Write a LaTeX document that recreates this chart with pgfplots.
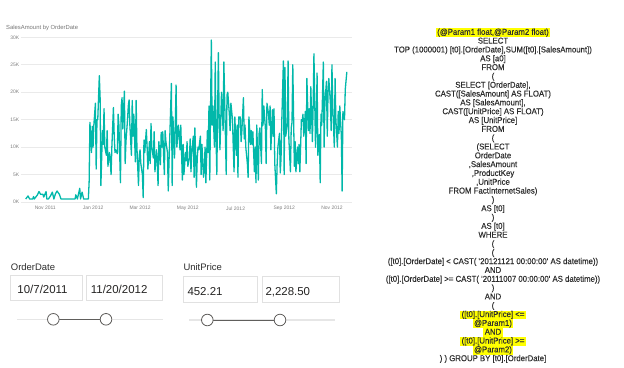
\documentclass[border=0pt]{standalone}
\usepackage{pgfplots}
\pgfplotsset{compat=1.18}
\usepackage{pgfplotstable}
\usepackage{fontspec}
\setmainfont{Liberation Sans}
\newfontfamily\sqlfont[FakeStretch=0.92,FakeBold=0.25]{Liberation Sans}
\definecolor{pbiteal}{HTML}{01B8AA}
\definecolor{gridgray}{HTML}{EAEAEA}
\definecolor{tickgray}{HTML}{808080}
\definecolor{titlegray}{HTML}{777777}
\definecolor{sqlgray}{HTML}{2E2E2E}
\definecolor{hlyellow}{HTML}{FFFF00}
\definecolor{boxgray}{HTML}{E1E1E1}
\definecolor{tracklight}{HTML}{E6E6E6}
\definecolor{trackdark}{HTML}{605E5C}
\definecolor{slicertext}{HTML}{252423}

% day = days since 2011-10-07, sales = SalesAmount
\pgfplotstableread{
day sales
0 550
3 1100
5 550
9 550
10 1000
11 550
15 1300
17 1900
19 1400
22 1400
23 900
26 1900
27 550
29 550
32 1200
34 1800
36 550
38 1500
40 2000
43 1400
45 550
63 550
64 1300
66 550
69 2500
70 550
72 1800
74 550
80 550
81 3700
82 14500
84 9000
85 13800
86 10000
87 14000
89 18000
90 6000
91 15000
92 15000
94 23000
95 19000
96 3000
98 13000
99 10500
100 17000
101 10000
103 8500
104 13000
105 6500
107 9000
108 7500
109 5000
110 10000
112 17200
113 12000
114 9000
115 9500
117 8800
118 16000
119 14000
121 3500
122 17500
123 19000
124 13300
126 20200
127 7000
128 11000
130 15000
131 17500
132 18600
133 14000
135 8500
136 18500
137 12000
138 16000
140 7300
141 18500
142 10000
144 3000
145 8500
146 9500
147 7000
149 5000
150 800
151 11300
152 9000
154 13200
155 10000
156 6000
158 11000
159 7000
160 14300
161 10000
163 8000
164 12800
165 5500
167 9500
168 7000
169 3000
170 11000
172 6800
173 12700
174 10000
175 12800
177 5000
178 13000
179 11000
181 9000
182 2000
183 7500
184 12000
186 21600
187 3000
188 15500
190 8000
191 14000
192 21300
193 10000
195 14000
196 12000
197 9500
198 14000
200 4000
201 10500
202 5000
204 9000
205 7500
206 11000
207 6500
209 8000
210 11500
211 5500
212 9000
214 12000
215 4500
216 13500
218 2700
219 8000
220 10000
221 9500
223 12000
224 5000
225 10500
227 4500
228 6000
229 10000
230 3500
232 13000
233 9000
234 17500
235 4000
237 29500
238 14000
239 17500
241 10000
242 25500
243 12000
244 5000
246 27200
247 15000
248 9500
250 20000
251 17000
252 13000
253 25500
255 12000
256 5000
257 19500
258 20000
260 16000
261 13000
262 18000
264 15000
265 10000
266 5500
267 15500
269 8500
270 14000
271 4500
272 15500
274 15500
275 11000
276 13000
278 19000
279 11500
280 14000
281 10000
283 7000
284 4500
285 15500
287 10500
288 13000
289 10500
290 12800
292 5500
293 10000
294 3500
295 14000
297 4000
298 12500
299 13500
301 7000
302 20500
303 14000
304 17500
306 13500
307 7000
308 18000
310 16000
311 14000
312 17500
313 9500
315 16800
316 12000
317 17000
318 7000
320 1500
321 6800
322 10000
324 12500
325 5300
326 8000
327 15000
329 25700
330 5000
331 24500
332 12000
334 14000
335 25700
336 11500
338 5500
339 13500
340 14500
341 25000
343 6500
344 11000
345 5500
347 10000
348 7000
349 10500
350 5500
352 15000
353 14700
354 16000
355 12000
357 16500
358 7000
359 22500
361 13000
362 17000
363 12500
364 21000
366 11000
367 17500
368 27000
370 10000
371 14000
372 23500
373 8500
375 12300
376 3500
377 16000
378 14000
380 25500
381 10000
382 18000
384 22000
385 12000
386 20000
387 22500
389 18000
390 13000
391 25000
392 17500
394 10000
395 22500
396 15000
398 10000
399 16500
400 12500
401 17500
403 12000
404 2000
405 16500
407 15000
408 20500
410 23700
}\salesdata

\begin{document}
\begin{tikzpicture}[x=1bp,y=1bp]
\fill[white] (0,0) rectangle (624,367);
\path[use as bounding box] (0,0) rectangle (624,367);
\coordinate (axisSW) at (21,165);

% chart title
\node[anchor=base west, inner sep=0pt, text=titlegray, font=\fontsize{5.9}{7}\selectfont] at (6,338) {SalesAmount by OrderDate};

\begin{axis}[
  at={(axisSW)}, anchor=south west, scale only axis,
  width=331bp, height=164.7bp,
  xmin=-6, xmax=416.6, ymin=0, ymax=30000,
  axis line style={draw=none},
  major tick style={draw=none},
  ymajorgrids, grid style={color=gridgray, line width=0.6bp},
  ytick={0,5000,10000,15000,20000,25000,30000},
  yticklabels={0K,5K,10K,15K,20K,25K,30K},
  xtick={25,86,146,207,268,330,391},
  xticklabels={Nov 2011,Jan 2012,Mar 2012,May 2012,Jul 2012,Sep 2012,Nov 2012},
  ticklabel style={font=\fontsize{5}{6}\selectfont, text=tickgray},
  yticklabel style={inner sep=0pt, xshift=-1.5bp},
  xticklabel style={inner sep=0pt, yshift=-4.3bp},
  scaled y ticks=false,
]
\addplot[pbiteal, line width=1.3bp, line join=round] table[x=day, y=sales]{\salesdata};
\end{axis}

% slicers
\node[anchor=base west, inner sep=0pt, text=sqlgray, font=\fontsize{9.5}{11}\selectfont] at (10.7,96.9) {OrderDate};
\node[anchor=base west, inner sep=0pt, text=sqlgray, font=\fontsize{9.5}{11}\selectfont] at (183.3,96.9) {UnitPrice};
\draw[boxgray, line width=0.8bp] (10.7,66.3) rectangle (82.7,91.3);
\draw[boxgray, line width=0.8bp] (86,66.3) rectangle (162.3,91.3);
\draw[boxgray, line width=0.8bp] (183.3,65) rectangle (257.3,90.3);
\draw[boxgray, line width=0.8bp] (262.7,65) rectangle (339,90.3);
\node[anchor=base west, inner sep=0pt, text=slicertext, font=\fontsize{11.5}{13}\selectfont] at (17.3,73.5) {10/7/2011};
\node[anchor=base west, inner sep=0pt, text=slicertext, font=\fontsize{11.5}{13}\selectfont] at (90.7,73.5) {11/20/2012};
\node[anchor=base west, inner sep=0pt, text=slicertext, font=\fontsize{11.5}{13}\selectfont] at (187.3,72) {452.21};
\node[anchor=base west, inner sep=0pt, text=slicertext, font=\fontsize{11.5}{13}\selectfont] at (265.3,72) {2,228.50};
% slider 1
\draw[tracklight, line width=1.5bp] (17,47.7) -- (163,47.7);
\draw[trackdark, line width=1bp] (53.3,47.7) -- (106,47.7);
\draw[trackdark, fill=white, line width=0.8bp] (53.3,47.7) circle (5.8);
\draw[trackdark, fill=white, line width=0.8bp] (106,47.7) circle (5.8);
% slider 2
\draw[tracklight, line width=1.5bp] (189,47) -- (335,47);
\draw[trackdark, line width=1bp] (207.3,47) -- (280,47);
\draw[trackdark, fill=white, line width=0.8bp] (207.3,47) circle (5.8);
\draw[trackdark, fill=white, line width=0.8bp] (280,47) circle (5.8);

% SQL text
\tikzset{sqlnode/.style={font=\sqlfont\fontsize{8.5}{9}\selectfont, text=sqlgray, inner xsep=1.5bp, inner ysep=0.4bp, text height=6.1bp, text depth=1.9bp}}
\foreach [count=\i] \t in {
{(@Param1 float,@Param2 float)},
{SELECT},
{TOP (1000001) [t0].[OrderDate],SUM([t0].[SalesAmount])},
{AS [a0]},
{FROM},
{(},
{SELECT [OrderDate],},
{CAST([SalesAmount] AS FLOAT)},
{AS [SalesAmount],},
{CAST([UnitPrice] AS FLOAT)},
{AS [UnitPrice]},
{FROM},
{(},
{(SELECT},
{OrderDate},
{,SalesAmount},
{,ProductKey},
{,UnitPrice},
{FROM FactInternetSales)},
{)},
{AS [t0]},
{)},
{AS [t0]},
{WHERE},
{(},
{(},
{([t0].[OrderDate] < CAST( \textquotesingle 20121121 00:00:00\textquotesingle\ AS datetime))},
{AND},
{([t0].[OrderDate] >= CAST( \textquotesingle 20111007 00:00:00\textquotesingle\ AS datetime))},
{)},
{AND},
{(},
{([t0].[UnitPrice] <=},
{@Param1)},
{AND},
{([t0].[UnitPrice] >=},
{@Param2)},
{) ) GROUP BY [t0].[OrderDate]}
}{
  \pgfmathsetmacro\yy{334.3-8.82*(\i-1)}
  \pgfmathtruncatemacro\hl{(\i==1)||((\i>=33)&&(\i<=37))}
  \ifnum\hl=1
    \node[sqlnode, fill=hlyellow] at (493,\yy) {\t};
  \else
    \node[sqlnode] at (493,\yy) {\t};
  \fi
}
\end{tikzpicture}
\end{document}
